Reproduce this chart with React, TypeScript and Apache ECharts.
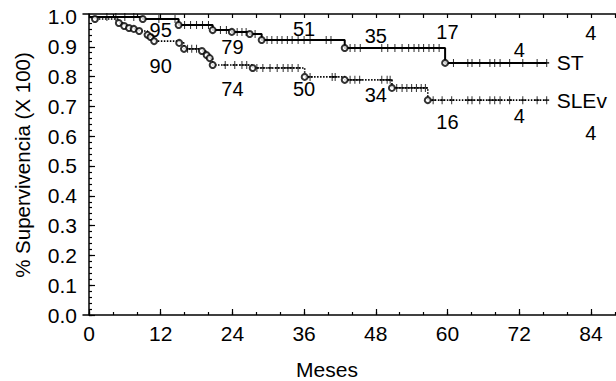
import React, { useEffect, useRef } from "react";
import * as echarts from "echarts";

// ---- Data (months, survival proportion) ----
const stTimes = [0, 9, 15, 20.7, 23.9, 26.9, 28.9, 42.8, 59.6, 76.6];
const stSurv = [1, 0.993, 0.973, 0.956, 0.95, 0.943, 0.923, 0.896, 0.846, 0.846];
const stCensored = [
  3, 4.5, 6, 7.5, 11.7, 14.4, 16, 17, 18, 19, 20, 22, 23, 24.8, 25.6, 26.3, 27.8,
  29.8, 30.6, 31.5, 32.3, 33.2, 34, 35, 36, 37, 39.7, 40.5, 43.7, 44.5, 45.4, 49,
  50, 51.2, 52.4, 53.5, 54.4, 55.2, 56, 56.9, 57.7, 58.6, 61, 63.4, 64.1, 65.4,
  67.1, 67.9, 68.8, 70.4, 72.6, 75, 76.6,
];

const slTimes = [
  0, 1, 5, 5.9, 6.7, 7.5, 8.4, 9.8, 10.3, 10.9, 15.1, 15.9, 18.9, 19.7, 20.2, 20.7,
  27.4, 36.1, 42.8, 50.7, 56.7, 76.6,
];
const slSurv = [
  1, 0.993, 0.98, 0.97, 0.963, 0.96, 0.953, 0.94, 0.933, 0.919, 0.913, 0.893, 0.886,
  0.872, 0.862, 0.839, 0.829, 0.799, 0.789, 0.762, 0.721, 0.721,
];
const slCensored = [
  16.5, 17.2, 18, 22.8, 24.4, 25.6, 26.4, 28.1, 29.1, 30.3, 31.5, 32.5, 33.3, 34, 35,
  37, 40.7, 41.2, 43.7, 44.5, 45.3, 49, 49.9, 50.4, 51.5, 52.4, 53.2, 54, 54.8, 55.6,
  56.3, 57.6, 59.1, 60.7, 63.4, 64.1, 65.4, 67.1, 67.9, 68.8, 70.4, 72.6, 75, 76.6,
];

// Numbers at risk
const riskMonths = [12, 24, 36, 48, 60, 72, 84];
const stAtRisk = [95, 79, 51, 35, 17, 4, 4];
const slAtRisk = [90, 74, 50, 34, 16, 4, 4];
// vertical placement of the at-risk numbers (survival units)
const stRiskY = [0.955, 0.898, 0.961, 0.936, 0.951, 0.889, 0.946];
const slRiskY = [0.836, 0.758, 0.758, 0.738, 0.646, 0.668, 0.612];

// Axes
const xLabelValues = [0, 12, 24, 36, 48, 60, 72, 84];
const yLabelValues = [0, 0.1, 0.2, 0.3, 0.4, 0.5, 0.6, 0.7, 0.8, 0.9, 1.0];
const xTitle = "Meses";
const yTitle = "% Supervivencia (X 100)";

const FONT = "'Liberation Sans', Arial, sans-serif";

function survAt(times: number[], surv: number[], t: number) {
  let s = surv[0];
  for (let i = 0; i < times.length; i++) if (times[i] <= t) s = surv[i];
  return s;
}

export default function App() {
  const ref = useRef<HTMLDivElement>(null);
  useEffect(() => {
    if (!ref.current) return;
    const chart = echarts.init(ref.current, null, { renderer: "svg" });

    const X_MIN = -1;
    const X_MAX = 88.2;

    const xMinor: number[] = [];
    for (let v = 0; v <= 88; v += 4) xMinor.push(v);
    const yMinor: number[] = [];
    for (let i = 0; i <= 50; i++) yMinor.push(Math.round(i * 2) / 100);

    const plus = "path://M2,0L2,8M0,4L4,4";
    const censorStyle = { color: "transparent", borderColor: "#000", borderWidth: 1.3 };

    const lineSeries = (name: string, times: number[], surv: number[], dash: any, w: number) => ({
      type: "line",
      name,
      step: "end",
      data: times.map((t, i) => [t, surv[i]]),
      showSymbol: false,
      symbol: "none",
      lineStyle: { color: "#000", width: w, type: dash },
      endLabel: {
        show: true,
        formatter: name,
        distance: 10,
        color: "#000",
        fontSize: 21,
        fontFamily: FONT,
      },
      z: 2,
    });

    const eventSeries = (times: number[], surv: number[]) => ({
      type: "scatter",
      symbol: "emptyCircle",
      symbolSize: 6,
      itemStyle: { color: "#000", borderColor: "#000", borderWidth: 1 },
      data: times.slice(1, -1).map((t, i) => [t, surv[i + 1]]),
      z: 4,
    });

    const censorSeries = (cens: number[], times: number[], surv: number[]) => ({
      type: "scatter",
      symbol: plus,
      symbolSize: [5, 8],
      itemStyle: censorStyle,
      data: cens.map((t) => [t, survAt(times, surv, t)]),
      z: 3,
    });

    const riskSeries = (counts: number[], ys: number[]) => ({
      type: "scatter",
      symbol: "circle",
      symbolSize: 0.1,
      itemStyle: { color: "#fff", opacity: 1 },
      data: riskMonths.map((m, i) => ({ value: [m, ys[i]], name: String(counts[i]) })),
      label: {
        show: true,
        position: "inside",
        formatter: "{b}",
        color: "#000",
        opacity: 1,
        fontSize: 20,
        fontFamily: FONT,
      },
      emphasis: { disabled: true },
      z: 5,
    });

    const axisLine = { show: true, lineStyle: { color: "#000", width: 1.5 } };

    chart.setOption({
      animation: false,
      grid: { left: 83, top: 14, right: 0, bottom: 66, containLabel: false },
      graphic: [
        {
          type: "text",
          x: 327,
          y: 369,
          style: {
            text: xTitle,
            fill: "#000",
            fontSize: 21,
            fontFamily: FONT,
            align: "center",
            verticalAlign: "middle",
          },
        },
        {
          type: "text",
          x: 22,
          y: 165,
          rotation: Math.PI / 2,
          style: {
            text: yTitle,
            fill: "#000",
            fontSize: 20.5,
            fontFamily: FONT,
            align: "center",
            verticalAlign: "middle",
          },
        },
      ],
      xAxis: [
        {
          type: "value",
          min: X_MIN,
          max: X_MAX,
          position: "bottom",
          axisLine,
          axisTick: {
            show: true,
            inside: true,
            length: 6,
            customValues: xLabelValues,
            lineStyle: { color: "#000", width: 1.2 },
          },
          axisLabel: {
            show: true,
            customValues: xLabelValues,
            color: "#000",
            fontSize: 21,
            fontFamily: FONT,
            margin: 8,
          },
          splitLine: { show: false },
        },
        {
          type: "value",
          min: X_MIN,
          max: X_MAX,
          position: "bottom",
          axisLine: { show: false },
          axisTick: {
            show: true,
            inside: true,
            length: 3,
            customValues: xMinor,
            lineStyle: { color: "#000", width: 1.2 },
          },
          axisLabel: { show: false },
          splitLine: { show: false },
        },
        {
          type: "value",
          min: X_MIN,
          max: X_MAX,
          position: "top",
          axisLine,
          axisTick: {
            show: true,
            inside: true,
            length: 4,
            customValues: xMinor,
            lineStyle: { color: "#000", width: 1.2 },
          },
          axisLabel: { show: false },
          splitLine: { show: false },
        },
      ],
      yAxis: [
        {
          type: "value",
          min: 0,
          max: 1.01,
          position: "left",
          axisLine,
          axisTick: {
            show: true,
            inside: true,
            length: 6,
            customValues: yLabelValues,
            lineStyle: { color: "#000", width: 1.2 },
          },
          axisLabel: {
            show: true,
            customValues: yLabelValues,
            formatter: (v: number) => v.toFixed(1),
            color: "#000",
            fontSize: 21,
            fontFamily: FONT,
            margin: 6,
            padding: [5, 0, 0, 0],
          },
          splitLine: { show: false },
        },
        {
          type: "value",
          min: 0,
          max: 1.01,
          position: "left",
          axisLine: { show: false },
          axisTick: {
            show: true,
            inside: true,
            length: 3,
            customValues: yMinor,
            lineStyle: { color: "#000", width: 1.2 },
          },
          axisLabel: { show: false },
          splitLine: { show: false },
        },
      ],
      series: [
        lineSeries("ST", stTimes, stSurv, "solid", 2),
        lineSeries("SLEv", slTimes, slSurv, [1.5, 1.5], 1.6),
        censorSeries(stCensored, stTimes, stSurv),
        censorSeries(slCensored, slTimes, slSurv),
        eventSeries(stTimes, stSurv),
        eventSeries(slTimes, slSurv),
        riskSeries(stAtRisk, stRiskY),
        riskSeries(slAtRisk, slRiskY),
      ],
    });
    return () => chart.dispose();
  }, []);

  return (
    <div
      ref={ref}
      style={{ position: "fixed", left: 0, top: 0, width: 616, height: 381, background: "#fff" }}
    />
  );
}
